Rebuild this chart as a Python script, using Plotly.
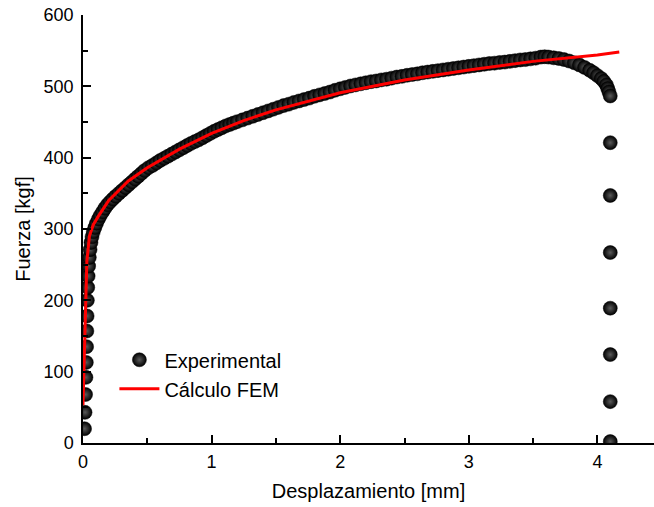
import plotly.graph_objects as go

# Experimental data (displacement [mm], force [kgf])
exp_x = [0.012, 0.016, 0.020, 0.023, 0.026, 0.028, 0.030, 0.032, 0.034, 0.037,
         0.040, 0.044, 0.049, 0.055, 0.062, 0.070, 0.080, 0.092, 0.105, 0.120,
         0.135, 0.152, 0.170, 0.190, 0.210, 0.232, 0.255, 0.280, 0.305, 0.330,
         0.355, 0.380, 0.405, 0.430, 0.455, 0.480, 0.510, 0.540, 0.570, 0.600,
         0.630, 0.660, 0.690, 0.720, 0.750, 0.780, 0.810, 0.840, 0.870, 0.900,
         0.930, 0.960, 0.990, 1.020, 1.050, 1.080, 1.110, 1.140, 1.170, 1.200,
         1.240, 1.280, 1.320, 1.360, 1.400, 1.440, 1.480, 1.520, 1.560, 1.600,
         1.640, 1.680, 1.720, 1.760, 1.800, 1.840, 1.880, 1.920, 1.960, 2.000,
         2.040, 2.080, 2.120, 2.160, 2.200, 2.240, 2.280, 2.320, 2.360, 2.400,
         2.440, 2.480, 2.520, 2.560, 2.600, 2.640, 2.680, 2.720, 2.760, 2.800,
         2.840, 2.880, 2.920, 2.960, 3.000, 3.040, 3.080, 3.120, 3.160, 3.200,
         3.240, 3.280, 3.320, 3.360, 3.400, 3.440, 3.480, 3.520, 3.560, 3.590,
         3.620, 3.660, 3.700, 3.740, 3.780, 3.820, 3.860, 3.900, 3.940, 3.970,
         4.000, 4.030, 4.050, 4.070, 4.080, 4.090,
         4.100, 4.100, 4.100, 4.100, 4.100, 4.100, 4.100, 4.100]
exp_y = [20, 43, 68, 92, 113, 135, 157, 178, 200, 218,
         234, 248, 260, 271, 281, 289, 296, 302, 308, 314,
         319, 324, 329, 334, 338, 342, 346, 350, 354, 358,
         362, 366, 370, 374, 378, 382, 386, 389, 392.5, 396,
         399, 402, 405, 408, 411, 414, 417, 420, 422.5, 425,
         428, 431, 434, 437, 439.5, 442, 444.5, 446.5, 448.5, 450.5,
         453, 455.5, 458, 460.5, 463, 465.5, 468, 470.5, 473, 475,
         477.5, 479.5, 481.5, 483.5, 486, 488, 490, 492, 494.5, 496.5,
         498.5, 500.5, 502, 503.5, 505, 506.5, 507.5, 509, 510, 511.5,
         513, 514, 515.5, 516.5, 517.5, 519, 520, 521, 522, 523,
         524, 525, 526, 527, 528, 529, 530, 531, 532, 532.5,
         533.5, 534, 535, 536, 537, 537.5, 538.5, 539.5, 541, 541.5,
         541, 540, 539, 537.5, 535.5, 533, 530, 526.5, 522.5, 519,
         515, 511, 507, 502, 497, 492,
         486.5, 421, 347, 267, 189, 124, 58, 2]

# FEM calculation
fem_x = [0.0, 0.03, 0.05, 0.08, 0.12, 0.20, 0.35, 0.50, 0.75, 1.00, 1.25,
         1.50, 2.00, 2.50, 3.00, 3.50, 4.00, 4.17]
fem_y = [53, 255, 290, 306, 318, 340, 367, 386, 412, 434, 452,
         467, 491, 509, 523, 535, 544, 548]

x_ticks = [0, 1, 2, 3, 4]
y_ticks = [0, 100, 200, 300, 400, 500, 600]

FONT = "Liberation Sans, Arial, Helvetica, sans-serif"

fig = go.Figure()
fig.add_trace(go.Scatter(
    x=exp_x, y=exp_y, mode="markers", name="Experimental",
    marker=dict(size=14, color="#000000", symbol="circle",
                gradient=dict(type="radial", color="#5a5a5a"),
                line=dict(color="#000000", width=0.5)),
))
fig.add_trace(go.Scatter(
    x=fem_x, y=fem_y, mode="lines", name="Cálculo FEM",
    line=dict(color="#ff0000", width=3),
))

axis_common = dict(
    showgrid=False, zeroline=False, showline=True, linecolor="black",
    linewidth=1.5, ticks="inside", tickcolor="black", tickwidth=1.5,
    ticklen=8, tickfont=dict(family=FONT, size=18, color="black"),
)

fig.update_xaxes(
    range=[0, 4.44], tickvals=x_ticks, ticktext=[str(v) for v in x_ticks],
    minor=dict(ticks="inside", dtick=0.5, tick0=0, ticklen=5,
               tickcolor="black", tickwidth=1.5),
    title=dict(text="Desplazamiento [mm]",
               font=dict(family=FONT, size=20, color="black"), standoff=13),
    ticklabelstandoff=2,
    **axis_common,
)
fig.update_yaxes(
    range=[0, 600], tickvals=y_ticks, ticktext=[str(v) for v in y_ticks],
    minor=dict(ticks="inside", dtick=50, tick0=0, ticklen=5,
               tickcolor="black", tickwidth=1.5),
    title=dict(text="Fuerza [kgf]",
               font=dict(family=FONT, size=20, color="black"), standoff=8),
    ticklabelstandoff=4,
    **axis_common,
)

fig.update_layout(
    width=654, height=507,
    margin=dict(l=83, r=0, t=15, b=64),
    paper_bgcolor="white", plot_bgcolor="white",
    showlegend=True,
    legend=dict(x=0.055, y=0.24, xanchor="left", yanchor="top",
                bgcolor="rgba(0,0,0,0)", borderwidth=0,
                font=dict(family=FONT, size=20, color="black"),
                itemwidth=40, tracegroupgap=0),
    font=dict(family=FONT),
)

fig.write_html("out.html")
